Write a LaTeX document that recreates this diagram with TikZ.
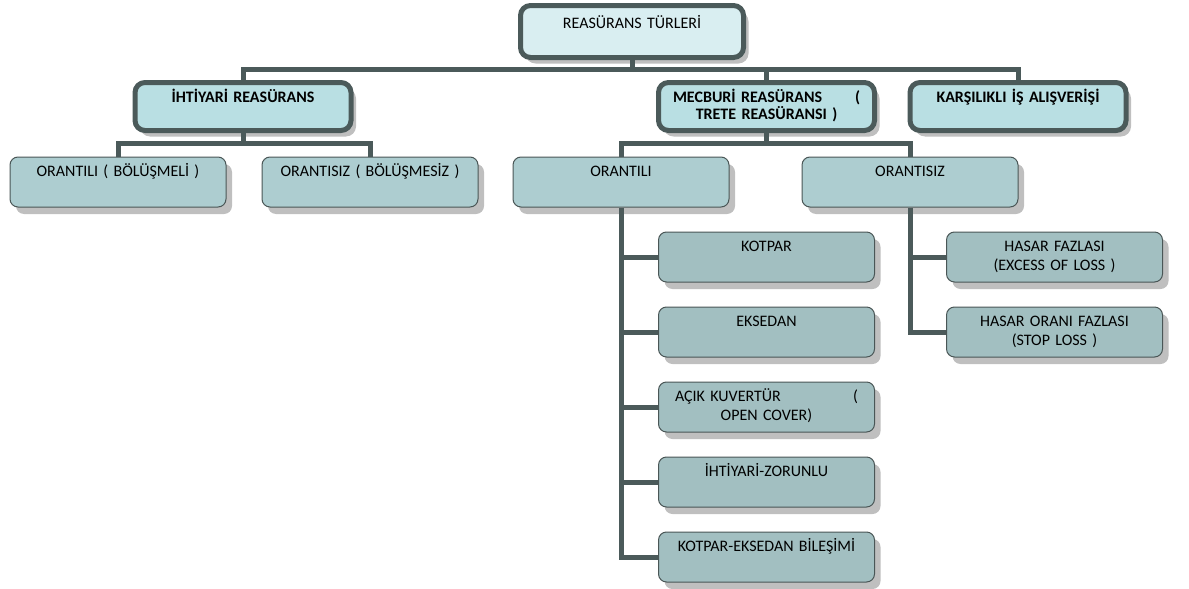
\documentclass[tikz,border=0pt]{standalone}
\usepackage{fontspec}
\setmainfont{Carlito}
\usetikzlibrary{shadows}
\definecolor{linec}{HTML}{4B5A5A}
\definecolor{topfill}{HTML}{D9EEF1}
\definecolor{twofill}{HTML}{B9DFE3}
\definecolor{threefill}{HTML}{ADCDD0}
\definecolor{fourfill}{HTML}{A2BFC1}
\definecolor{thinline}{HTML}{4A5656}

\begin{document}
\begin{tikzpicture}[x=0.5pt,y=-0.5pt]
	\tikzstyle{box}=[inner sep=0pt,align=center,font=\fontsize{8}{9.5}\selectfont]
	\tikzstyle{thick}=[box,draw=linec,line width=2.5pt,rounded corners=5pt,
		drop shadow={shadow xshift=2.5pt,shadow yshift=-3pt,fill=black,opacity=0.25}]
	\tikzstyle{head}=[thick,fill=topfill,minimum width=111.5pt,text width=108pt,text height=11.4pt,text depth=14.6pt]
	\tikzstyle{kind}=[thick,fill=twofill,font=\fontsize{8}{8.6}\selectfont\bfseries,minimum width=108pt,text width=104pt,text height=9.75pt,text depth=14.25pt]
	\tikzstyle{thin}=[box,draw=thinline,line width=0.5pt,rounded corners=4pt,minimum width=108pt,text width=104pt,text height=9.6pt,text depth=15.4pt,
		drop shadow={shadow xshift=3pt,shadow yshift=-3.5pt,fill=black,opacity=0.25}]
	\tikzstyle{part}=[thin,fill=threefill]
	\tikzstyle{sort}=[thin,fill=fourfill]
	\tikzstyle{conn}=[draw=linec,line width=2.5pt]
	\useasboundingbox (0,0) rectangle (1189,589);
	\node (top) at (632,31.5) [head] {REASÜRANS TÜRLERİ};
	\node (ihti) at (243,106.5) [kind] {İHTİYARİ REASÜRANS};
	\node (mecb) at (766.5,106.5) [kind] {\makebox[93.5pt]{MECBURİ REASÜRANS\hfill(}\\TRETE REASÜRANSI )};
	\node (karsi) at (1018,106.5) [kind] {KARŞILIKLI İŞ ALIŞVERİŞİ};
	\node (obl) at (118,182) [part] {ORANTILI ( BÖLÜŞMELİ )};
	\node (osz) at (370,182) [part] {ORANTISIZ ( BÖLÜŞMESİZ )};
	\node (orl) at (621,182) [part] {ORANTILI};
	\node (ors) at (910,182) [part] {ORANTISIZ};
	\node (kotpar) at (766.5,257) [sort] {KOTPAR};
	\node (eksedan) at (766.5,332) [sort] {EKSEDAN};
	\node (acik) at (766.5,407) [sort] {\makebox[91.5pt]{AÇIK KUVERTÜR\hfill(}\\OPEN COVER)};
	\node (ihtzor) at (766.5,482) [sort] {İHTİYARİ-ZORUNLU};
	\node (kotek) at (766.5,557) [sort] {KOTPAR-EKSEDAN BİLEŞİMİ};
	\node (hasar) at (1054.5,257) [sort] {HASAR FAZLASI\\(EXCESS OF LOSS )};
	\node (hasoran) at (1054.5,332) [sort] {HASAR ORANI FAZLASI\\(STOP LOSS )};
	\coordinate (bus1) at (0,69.5);
	\coordinate (bus2) at (0,143.5);
	\draw [conn] (top.south) -- (top.south |- bus1);
	\draw [conn] (ihti.north) |- (karsi.north |- bus1) -- (karsi.north);
	\draw [conn] (mecb.north) -- (mecb.north |- bus1);
	\draw [conn] (ihti.south) -- (ihti.south |- bus2);
	\draw [conn] (obl.north) |- (osz.north |- bus2) -- (osz.north);
	\draw [conn] (mecb.south) -- (mecb.south |- bus2);
	\draw [conn] (orl.north) |- (ors.north |- bus2) -- (ors.north);
	\draw [conn] (orl.south) |- (kotek.west);
	\foreach \n in {kotpar,eksedan,acik,ihtzor}
		\draw [conn] (\n.west) -- (\n.west -| orl.south);
	\draw [conn] (ors.south) |- (hasoran.west);
	\draw [conn] (hasar.west) -- (hasar.west -| ors.south);
\end{tikzpicture}
\end{document}
